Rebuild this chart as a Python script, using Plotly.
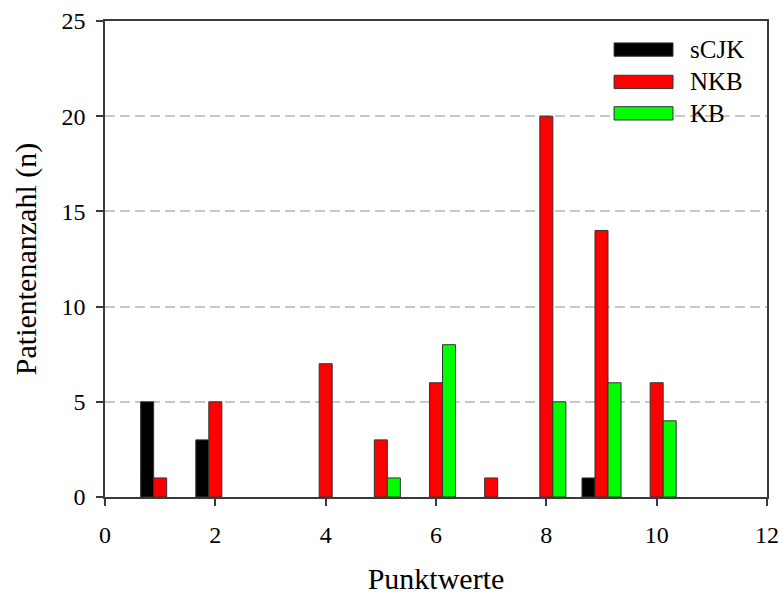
import plotly.graph_objects as go

# Score values on the x axis and patient counts per group
punktwerte = [1, 2, 4, 5, 6, 7, 8, 9, 10]
series_names = ["sCJK", "NKB", "KB"]
scjk = [5, 3, 0, 0, 0, 0, 0, 1, 0]
nkb = [1, 5, 7, 3, 6, 1, 20, 14, 6]
kb = [0, 0, 0, 1, 8, 0, 5, 6, 4]
series_values = [scjk, nkb, kb]
series_colors = ["#000000", "#ff0000", "#00ff00"]

x_ticks = [0, 2, 4, 6, 8, 10, 12]
y_ticks = [0, 5, 10, 15, 20, 25]

FONT = "Liberation Serif"
AXIS_COLOR = "#3a3a3a"

fig = go.Figure()
for name, vals, color in zip(series_names, series_values, series_colors):
    fig.add_trace(go.Bar(
        x=punktwerte,
        y=[v if v else None for v in vals],
        name=name,
        marker=dict(color=color, line=dict(color="#333333", width=1)),
        showlegend=False,
    ))

# Legend drawn as wide swatches with labels, top-right inside the plot
sw_x0, sw_x1 = 0.769, 0.858
row_y = [0.94, 0.872, 0.806]
sw_h = 0.028
for name, color, yc in zip(series_names, series_colors, row_y):
    fig.add_shape(type="rect", xref="paper", yref="paper",
                  x0=sw_x0, x1=sw_x1, y0=yc - sw_h / 2, y1=yc + sw_h / 2,
                  fillcolor=color, line=dict(color="#333333", width=1), layer="above")
    fig.add_annotation(xref="paper", yref="paper", x=0.881, y=yc,
                       xanchor="left", yanchor="middle", text=name, showarrow=False,
                       font=dict(family=FONT, size=25, color="#000000"),
                       bgcolor="rgba(0,0,0,0)")

fig.update_layout(
    width=783, height=597,
    margin=dict(l=104.5, r=16, t=20.7, b=99.6, autoexpand=False),
    paper_bgcolor="white", plot_bgcolor="white",
    barmode="group", bargap=0.292, bargroupgap=0,
    font=dict(family=FONT, size=24, color="#000000"),
)
fig.update_xaxes(
    range=[0, 12], tickvals=x_ticks, ticktext=[str(t) for t in x_ticks],
    showgrid=False, zeroline=False, automargin=False,
    showline=True, linecolor=AXIS_COLOR, linewidth=1.5, mirror=True,
    ticks="outside", ticklen=7, tickcolor=AXIS_COLOR, tickwidth=1.5,
    tickfont=dict(family=FONT, size=24), ticklabelstandoff=8,
    title=dict(text="Punktwerte", font=dict(family=FONT, size=30), standoff=21),
)
fig.update_yaxes(
    range=[0, 25], tickvals=y_ticks, ticktext=[str(t) for t in y_ticks],
    showgrid=True, gridcolor="#c8c8c8", gridwidth=1.5, griddash="10px,5px",
    zeroline=False, automargin=False,
    showline=True, linecolor=AXIS_COLOR, linewidth=1.5, mirror=True,
    ticks="outside", ticklen=7, tickcolor=AXIS_COLOR, tickwidth=1.5,
    tickfont=dict(family=FONT, size=24), ticklabelstandoff=6,
    title=dict(text="Patientenanzahl (n)", font=dict(family=FONT, size=30), standoff=16),
)

fig.write_html("out.html")
